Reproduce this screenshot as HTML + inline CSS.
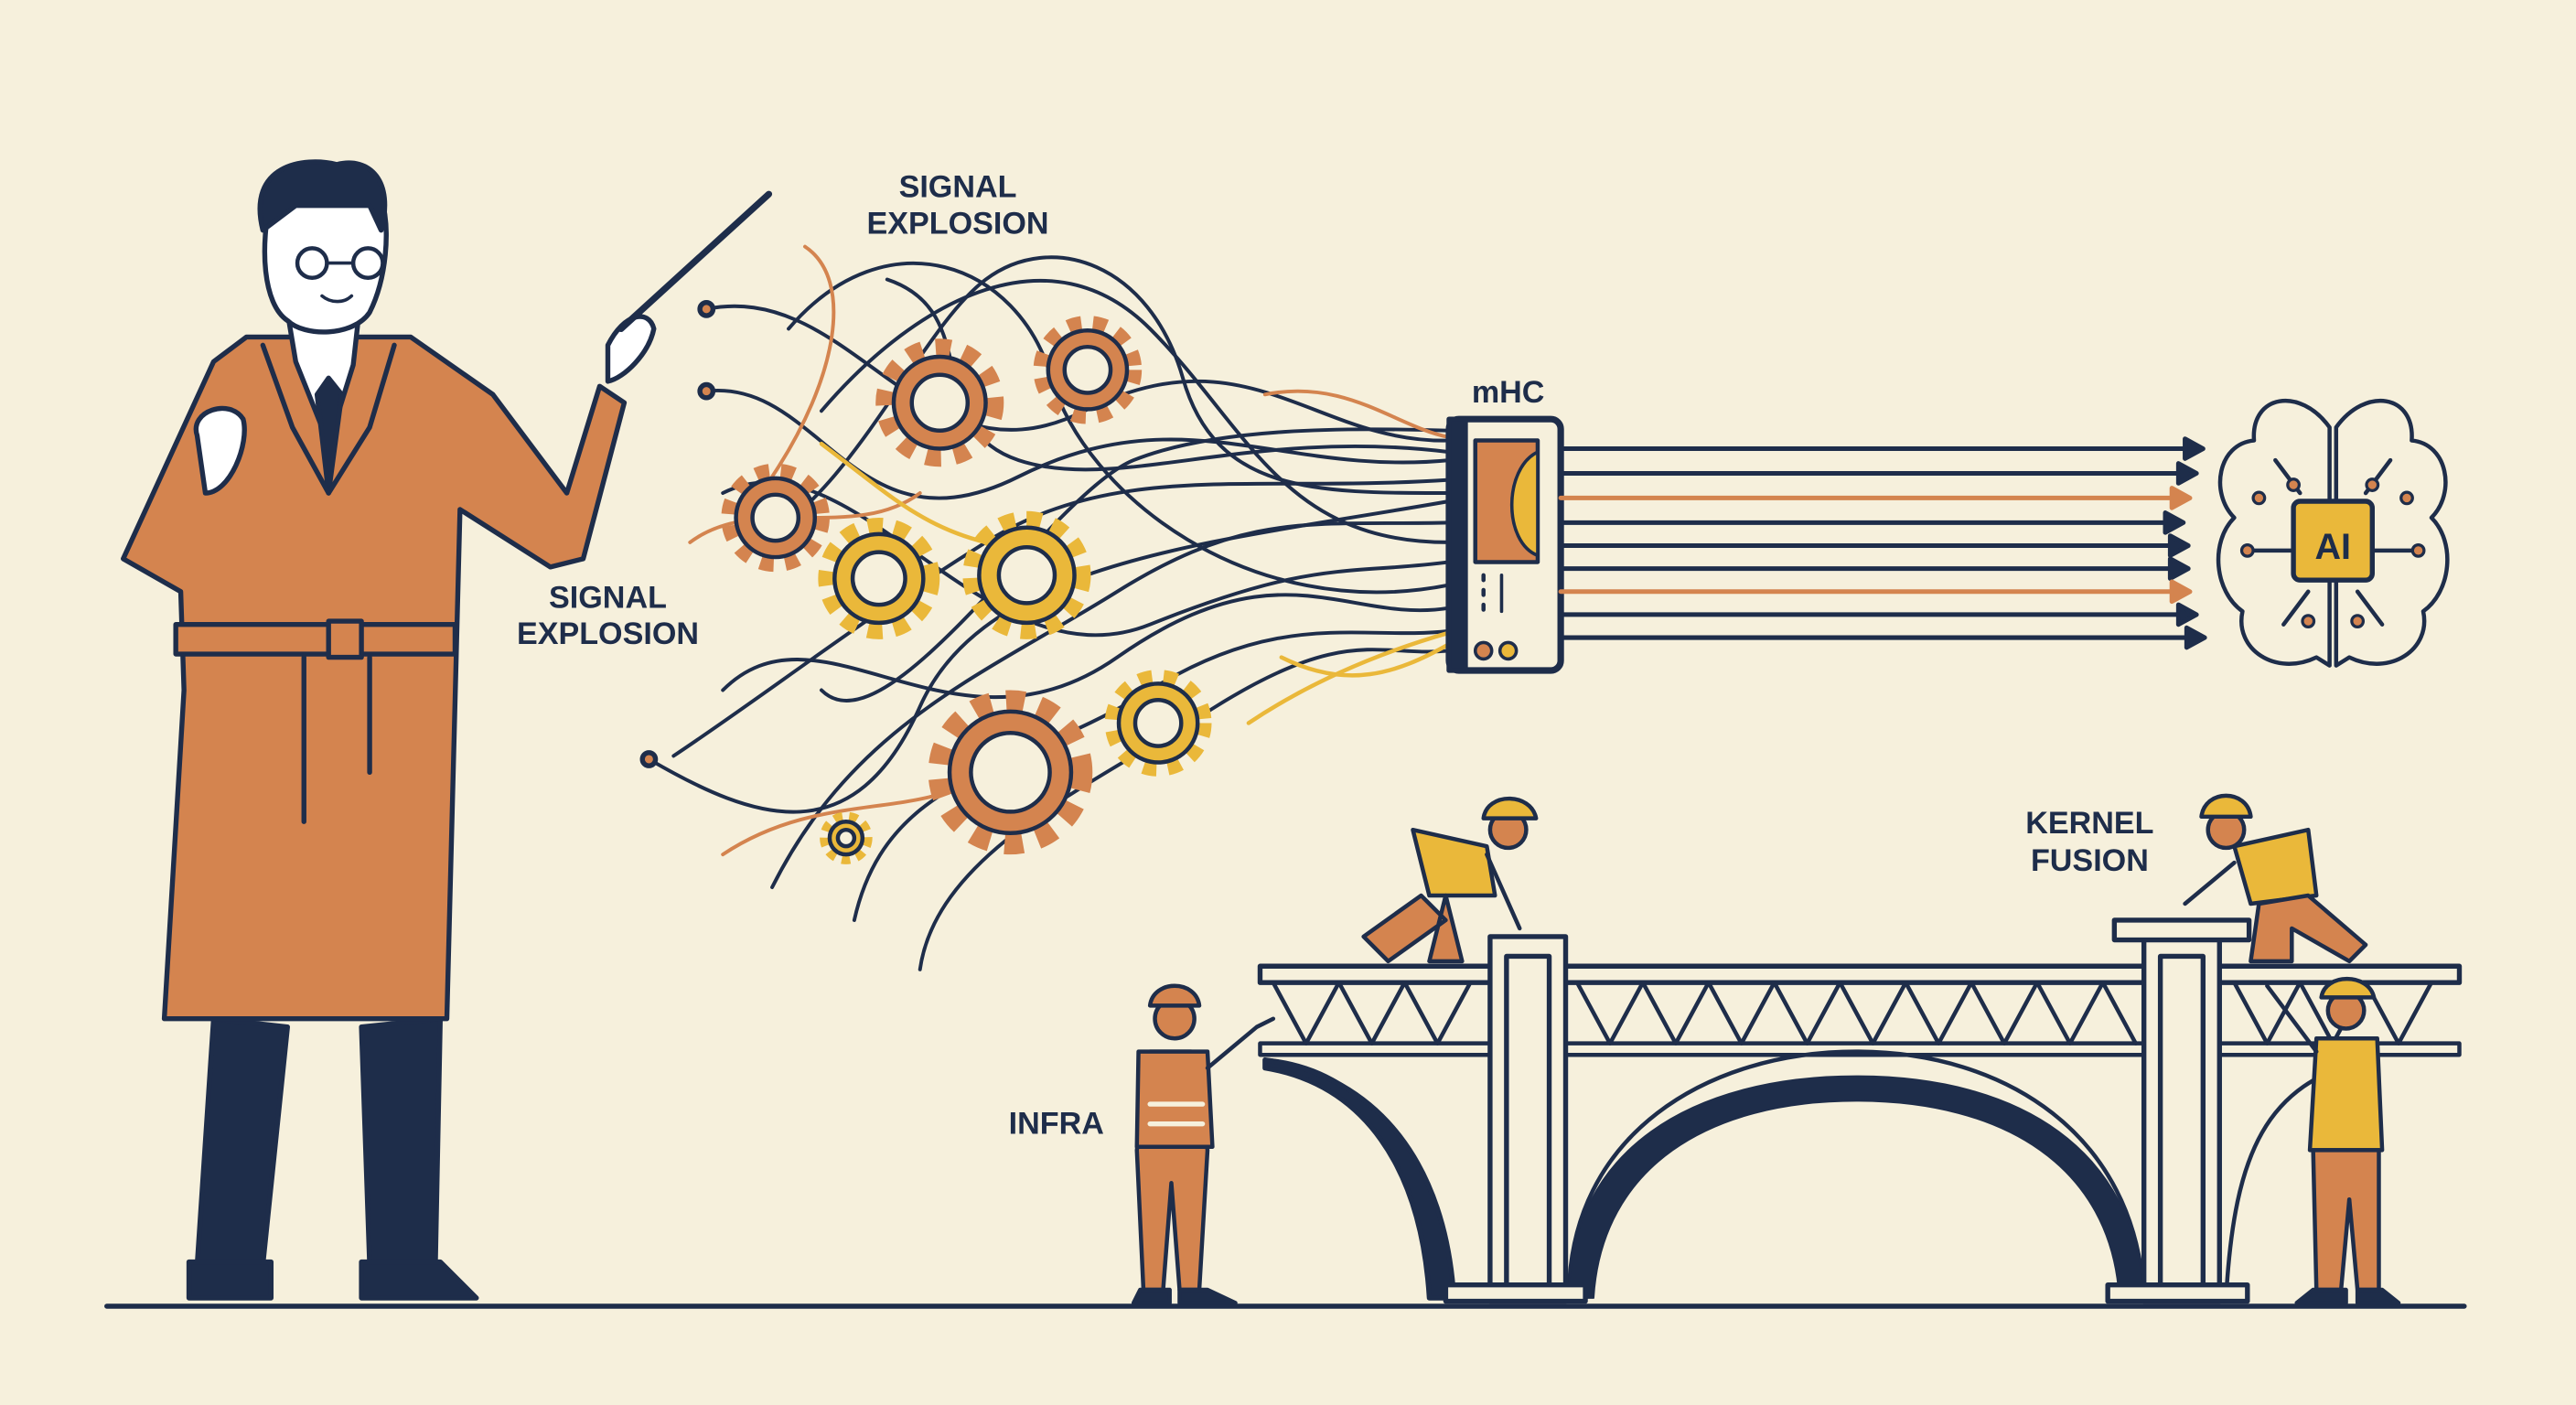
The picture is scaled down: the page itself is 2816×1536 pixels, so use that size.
<!DOCTYPE html>
<html><head><meta charset="utf-8"><style>
html,body{margin:0;padding:0;background:#f6f0dc;}
svg{display:block;}
text{font-family:"Liberation Sans",sans-serif;font-weight:bold;fill:#1e2d4a;}
.t{stroke-linecap:butt;fill:none;}
</style></head><body>
<svg width="2816" height="1536" viewBox="0 0 1568 855" xmlns="http://www.w3.org/2000/svg">
<rect width="1568" height="855" fill="#f6f0dc"/>
<g stroke="#1e2d4a" stroke-width="3" stroke-linecap="round" stroke-linejoin="round">
<line x1="65" y1="795" x2="1500" y2="795"/>
<g fill="none" stroke-width="2.2">
<path d="M430 188 C520 170 560 300 660 250 S800 270 882 268"/>
<path d="M430 238 C500 230 520 340 620 290 S780 290 882 280"/>
<path d="M410 460 C470 420 520 380 600 330 S760 300 882 292"/>
<path d="M395 462 C460 500 520 520 560 430 S740 330 882 305"/>
<path d="M470 540 C520 440 600 410 680 360 S800 320 882 318"/>
<path d="M500 250 C560 180 640 140 700 200 S780 330 882 330"/>
<path d="M440 300 C520 260 600 420 700 380 S820 350 882 342"/>
<path d="M480 200 C540 130 620 160 640 230 S760 380 882 356"/>
<path d="M440 420 C500 360 580 470 680 400 S820 380 882 370"/>
<path d="M520 560 C540 470 620 470 700 420 S830 390 882 384"/>
<path d="M560 590 C570 520 660 480 740 430 S840 400 882 396"/>
<path d="M460 330 C520 300 560 200 600 170 S700 160 720 230 S800 300 882 300"/>
<path d="M500 420 C540 460 640 300 690 280 S820 260 882 262"/>
<path d="M540 170 C600 190 560 260 620 280 S760 260 882 275"/>
</g>
<g fill="none" stroke="#d4844f" stroke-width="2.2">
<path d="M490 150 C520 170 510 230 470 290"/>
<path d="M420 330 C460 300 520 330 560 300"/>
<path d="M770 240 C820 230 850 260 882 266"/>
<path d="M440 520 C500 480 560 500 600 470"/>
</g>
<g fill="none" stroke="#eab83a" stroke-width="2.5">
<path d="M500 270 C540 300 560 320 600 330"/>
<path d="M780 400 C820 420 850 410 882 392"/>
<path d="M760 440 C790 420 830 400 882 385"/>
</g>
<g fill="#d4844f"><circle cx="430" cy="188" r="4"/><circle cx="430" cy="238" r="4"/><circle cx="395" cy="462" r="4"/></g>
<g stroke-width="2.5">
<g><circle class="t" cx="572" cy="245" r="33" stroke-dasharray="9 8" stroke-width="12" stroke="#d4844f"/><circle cx="572" cy="245" r="28" fill="#d4844f"/><circle cx="572" cy="245" r="17" fill="#f6f0dc"/></g>
<g><circle class="t" cx="662" cy="225" r="28" stroke-dasharray="8 7" stroke-width="10" stroke="#d4844f"/><circle cx="662" cy="225" r="24" fill="#d4844f"/><circle cx="662" cy="225" r="14" fill="#f6f0dc"/></g>
<g><circle class="t" cx="472" cy="315" r="28" stroke-dasharray="8 7" stroke-width="10" stroke="#d4844f"/><circle cx="472" cy="315" r="24" fill="#d4844f"/><circle cx="472" cy="315" r="14" fill="#f6f0dc"/></g>
<g><circle class="t" cx="615" cy="470" r="43" stroke-dasharray="11 9" stroke-width="14" stroke="#d4844f"/><circle cx="615" cy="470" r="37" fill="#d4844f"/><circle cx="615" cy="470" r="24" fill="#f6f0dc"/></g>
<g><circle class="t" cx="535" cy="352" r="32" stroke-dasharray="9 7" stroke-width="10" stroke="#eab83a"/><circle cx="535" cy="352" r="27" fill="#eab83a"/><circle cx="535" cy="352" r="16" fill="#f6f0dc"/></g>
<g><circle class="t" cx="625" cy="350" r="34" stroke-dasharray="9 7" stroke-width="10" stroke="#eab83a"/><circle cx="625" cy="350" r="29" fill="#eab83a"/><circle cx="625" cy="350" r="17" fill="#f6f0dc"/></g>
<g><circle class="t" cx="705" cy="440" r="28" stroke-dasharray="8 7" stroke-width="9" stroke="#eab83a"/><circle cx="705" cy="440" r="24" fill="#eab83a"/><circle cx="705" cy="440" r="14" fill="#f6f0dc"/></g>
<g><circle class="t" cx="515" cy="510" r="13" stroke-dasharray="5 4" stroke-width="6" stroke="#eab83a"/><circle cx="515" cy="510" r="10" fill="#eab83a"/><circle cx="515" cy="510" r="5" fill="#f6f0dc"/></g>
</g>
<rect x="882" y="255" width="68" height="153" rx="6" fill="#f6f0dc" stroke-width="4"/>
<rect x="882" y="255" width="10" height="153" fill="#1e2d4a"/>
<rect x="898" y="268" width="38" height="74" fill="#d4844f" stroke-width="2.5"/>
<path d="M936 275 C915 285 915 330 936 338 Z" fill="#eab83a" stroke-width="2"/>
<line x1="903" y1="350" x2="903" y2="372" stroke-dasharray="3 6" stroke-width="2.5"/>
<line x1="914" y1="350" x2="914" y2="372" stroke-width="2"/>
<circle cx="903" cy="396" r="5" fill="#d4844f" stroke-width="2"/>
<circle cx="918" cy="396" r="5" fill="#eab83a" stroke-width="2"/>
<g stroke-width="2.8">
<line x1="950" y1="273" x2="1335" y2="273"/><polygon points="1330,267 1341,273 1330,279" fill="#1e2d4a"/>
<line x1="950" y1="288" x2="1330" y2="288"/><polygon points="1326,282 1337,288 1326,294" fill="#1e2d4a"/>
<line x1="950" y1="303" x2="1325" y2="303" stroke="#d4844f"/><polygon points="1322,297 1333,303 1322,309" fill="#d4844f" stroke="#d4844f"/>
<line x1="950" y1="318" x2="1322" y2="318"/><polygon points="1318,312 1329,318 1318,324" fill="#1e2d4a"/>
<line x1="950" y1="332" x2="1325" y2="332"/><polygon points="1321,326 1332,332 1321,338" fill="#1e2d4a"/>
<line x1="950" y1="346" x2="1325" y2="346"/><polygon points="1321,340 1332,346 1321,352" fill="#1e2d4a"/>
<line x1="950" y1="360" x2="1325" y2="360" stroke="#d4844f"/><polygon points="1322,354 1333,360 1322,366" fill="#d4844f" stroke="#d4844f"/>
<line x1="950" y1="374" x2="1330" y2="374"/><polygon points="1326,368 1337,374 1326,380" fill="#1e2d4a"/>
<line x1="950" y1="388" x2="1335" y2="388"/><polygon points="1331,382 1342,388 1331,394" fill="#1e2d4a"/>
</g>
<g fill="none" stroke-width="2.5">
<path d="M1418 260 C1400 235 1370 240 1372 268 C1350 270 1345 300 1360 315 C1345 330 1348 360 1365 372 C1360 395 1385 412 1410 400 L1418 405 Z"/>
<path d="M1422 260 C1440 235 1470 240 1468 268 C1490 270 1495 300 1480 315 C1495 330 1492 360 1475 372 C1480 395 1455 412 1430 400 L1422 405 Z"/>
<path d="M1385 280 L1400 300 M1455 280 L1440 300 M1368 335 L1395 335 M1472 335 L1445 335 M1390 380 L1405 360 M1450 380 L1435 360"/>
</g>
<g fill="#d4844f" stroke-width="1.8"><circle cx="1396" cy="295" r="3.5"/><circle cx="1444" cy="295" r="3.5"/><circle cx="1368" cy="335" r="3.5"/><circle cx="1472" cy="335" r="3.5"/><circle cx="1405" cy="378" r="3.5"/><circle cx="1435" cy="378" r="3.5"/><circle cx="1375" cy="303" r="3.5"/><circle cx="1465" cy="303" r="3.5"/></g>
<rect x="1396" y="305" width="48" height="48" rx="4" fill="#eab83a" stroke-width="3"/>
<g fill="#f6f0dc">
<rect x="767" y="588" width="730" height="10" stroke-width="3"/>
<rect x="767" y="635" width="730" height="7" stroke-width="2.5"/>
</g>
<g fill="none" stroke-width="2.5">
<path d="M775 598 L795 635 L815 598 L835 635 L855 598 L875 635 L895 598"/>
<path d="M960 598 L980 635 L1000 598 L1020 635 L1040 598 L1060 635 L1080 598 L1100 635 L1120 598 L1140 635 L1160 598 L1180 635 L1200 598 L1220 635 L1240 598 L1260 635 L1280 598 L1300 635"/>
<path d="M1360 598 L1380 635 L1400 598 L1420 635 L1440 598 L1460 635 L1480 598"/>
<path d="M955 790 C955 690 1040 640 1130 640 C1220 640 1300 690 1305 790"/>
<path d="M770 645 C830 650 870 700 880 790"/>
<path d="M1355 790 C1360 700 1380 660 1440 645"/>
</g>
<path d="M955 790 C955 700 1030 655 1130 655 C1230 655 1300 700 1305 790 L1290 790 C1285 710 1220 670 1130 670 C1040 670 975 710 970 790 Z" fill="#1e2d4a" stroke-width="1"/>
<path d="M770 650 C830 660 865 710 870 790 L885 790 C880 710 840 655 770 645 Z" fill="#1e2d4a"/>
<g fill="#f6f0dc" stroke-width="3">
<rect x="907" y="570" width="46" height="222"/><rect x="917" y="582" width="26" height="200"/>
<rect x="1305" y="570" width="46" height="222"/><rect x="1315" y="582" width="26" height="200"/>
<rect x="1287" y="560" width="82" height="12"/>
<rect x="880" y="782" width="85" height="10"/><rect x="1283" y="782" width="85" height="10"/>
</g>
<g stroke-width="3">
<path d="M130 620 L120 770 L160 770 L175 625 Z M220 625 L225 770 L265 770 L268 620 Z" fill="#1e2d4a"/>
<path d="M115 768 L165 768 L165 790 L115 790 Z M220 768 L268 768 L290 790 L220 790 Z" fill="#1e2d4a"/>
<path d="M150 205 L250 205 L300 240 L345 300 L365 235 L380 245 L355 340 L335 345 L280 310 L272 620 L100 620 L112 420 L110 360 L75 340 L130 220 Z" fill="#d4844f"/>
<path d="M175 190 L180 220 L200 270 L215 222 L218 195 Z" fill="#fff"/>
<path d="M200 230 L193 240 L200 300 L208 240 Z" fill="#1e2d4a"/>
<path d="M160 210 L178 260 L200 300 M240 210 L225 260 L200 300" fill="none"/>
<rect x="107" y="380" width="170" height="18" fill="#d4844f"/>
<rect x="200" y="378" width="20" height="22" fill="#d4844f"/>
<path d="M185 400 L185 500 M225 400 L225 470" fill="none"/>
<path d="M165 120 C158 150 160 185 175 195 C185 205 215 205 225 190 C235 170 238 140 232 120 Z" fill="#fff"/>
<path d="M160 140 C150 100 185 95 205 100 C225 95 240 110 232 140 L225 125 L180 125 Z" fill="#1e2d4a"/>
<circle cx="190" cy="160" r="9" fill="none" stroke-width="2.5"/><circle cx="224" cy="160" r="9" fill="none" stroke-width="2.5"/>
<path d="M199 160 L215 160" fill="none" stroke-width="2"/>
<path d="M196 180 C202 185 210 184 214 180" fill="none" stroke-width="2"/>
<path d="M120 265 C115 250 140 242 148 255 C152 270 140 300 125 300 Z" fill="#fff"/>
<path d="M370 210 C380 190 395 188 398 200 C395 215 380 230 370 232 Z" fill="#fff"/>
<line x1="378" y1="200" x2="468" y2="118" stroke-width="4"/>
</g>
<g stroke-width="2.5">
<path d="M700 640 L725 640 L735 700 L730 785 L718 785 L713 720 L708 785 L696 785 L692 700 Z" fill="#d4844f"/>
<path d="M693 640 L735 640 L738 698 L692 698 Z" fill="#d4844f"/>
<path d="M700 672 L732 672 M700 684 L732 684" stroke="#f6f0dc" stroke-width="3"/>
<circle cx="715" cy="620" r="12" fill="#d4844f"/>
<path d="M700 612 C702 596 728 596 730 612 Z" fill="#d4844f"/>
<path d="M735 650 L765 625 L775 620" fill="none"/>
<path d="M694 785 L712 785 L712 793 L690 793 Z M718 785 L735 785 L752 793 L718 793 Z" fill="#1e2d4a"/>
<circle cx="918" cy="505" r="11" fill="#d4844f"/>
<path d="M903 498 C905 482 932 482 935 498 Z" fill="#eab83a"/>
<path d="M860 505 L905 515 L910 545 L870 545 Z" fill="#eab83a"/>
<path d="M865 545 L830 570 L845 585 L880 560 Z M880 545 L870 585 L890 585 Z" fill="#d4844f"/>
<path d="M905 520 L925 565" fill="none"/>
<circle cx="1355" cy="505" r="11" fill="#d4844f"/>
<path d="M1340 497 C1342 480 1368 480 1370 497 Z" fill="#eab83a"/>
<path d="M1360 515 L1405 505 L1410 545 L1370 550 Z" fill="#eab83a"/>
<path d="M1375 550 L1370 585 L1395 585 L1395 565 L1430 585 L1440 575 L1405 545 Z" fill="#d4844f"/>
<path d="M1360 525 L1330 550" fill="none"/>
<circle cx="1428" cy="615" r="11" fill="#d4844f"/>
<path d="M1413 607 C1415 592 1442 592 1445 607 Z" fill="#eab83a"/>
<path d="M1410 632 L1447 632 L1450 700 L1406 700 Z" fill="#eab83a"/>
<path d="M1408 700 L1448 700 L1448 785 L1435 785 L1430 730 L1425 785 L1410 785 Z" fill="#d4844f"/>
<path d="M1410 640 L1380 600" fill="none"/>
<path d="M1408 785 L1428 785 L1428 793 L1398 793 Z M1435 785 L1450 785 L1460 793 L1435 793 Z" fill="#1e2d4a"/>
</g>
</g>
<text x="583" y="120" font-size="19" text-anchor="middle">SIGNAL</text>
<text x="583" y="142" font-size="19" text-anchor="middle">EXPLOSION</text>
<text x="370" y="370" font-size="19" text-anchor="middle">SIGNAL</text>
<text x="370" y="392" font-size="19" text-anchor="middle">EXPLOSION</text>
<text x="918" y="245" font-size="19" text-anchor="middle">mHC</text>
<text x="1420" y="340" font-size="22" text-anchor="middle">AI</text>
<text x="643" y="690" font-size="19" text-anchor="middle">INFRA</text>
<text x="1272" y="507" font-size="19" text-anchor="middle">KERNEL</text>
<text x="1272" y="530" font-size="19" text-anchor="middle">FUSION</text>
</svg>
</body></html>
